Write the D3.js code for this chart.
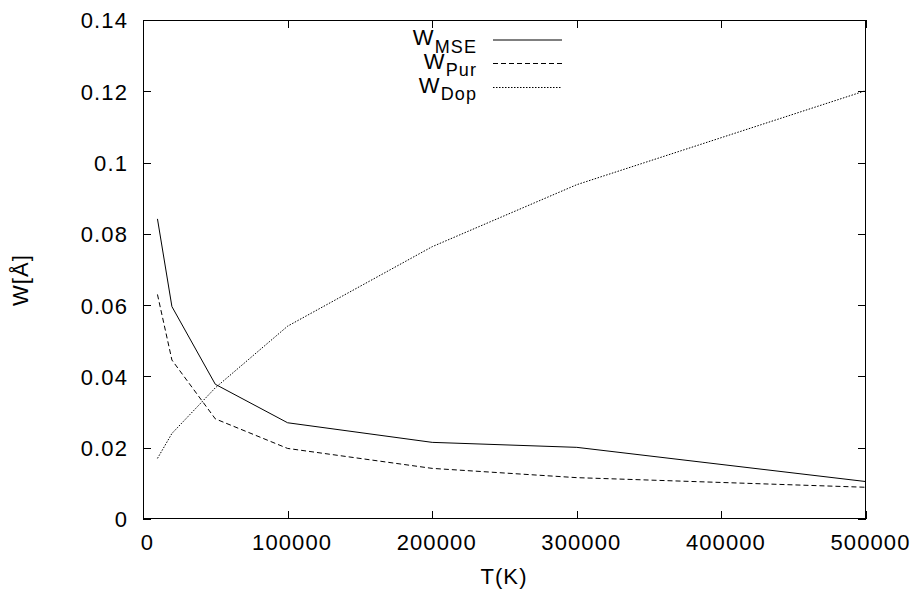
<!DOCTYPE html>
<html>
<head>
<meta charset="utf-8">
<script src="https://cdn.jsdelivr.net/npm/d3@7"></script>
<style>
  html, body { margin: 0; padding: 0; background: #fff; }
  svg { display: block; }
  text { font-family: "Liberation Sans", Arial, sans-serif; fill: #000; }
</style>
</head>
<body>
<svg id="chart" width="913" height="590"></svg>
<script>
// ---- data ----
const temps = [10000, 20000, 50000, 100000, 200000, 300000, 500000];
const wMSE = [0.0842, 0.0596, 0.0378, 0.0270, 0.0215, 0.0201, 0.0105];
const wPur = [0.0630, 0.0446, 0.0281, 0.0198, 0.0142, 0.0116, 0.0089];
const wDop = [0.0170, 0.0240, 0.0368, 0.0541, 0.0764, 0.0938, 0.1202];
const seriesNames = ["MSE", "Pur", "Dop"];
const xTicks = [0, 100000, 200000, 300000, 400000, 500000];
const yTicks = [0, 0.02, 0.04, 0.06, 0.08, 0.1, 0.12, 0.14];
const xTitle = "T(K)";
const yTitle = "W[Å]";

// ---- layout ----
const L = 143, R = 866, T = 20, B = 519;
const svg = d3.select("#chart");
const x = d3.scaleLinear().domain([0, 500000]).range([L, R]);
const y = d3.scaleLinear().domain([0, 0.14]).range([B, T]);

const fontSize = 22, ls = 1.1;
const fmtY = d => d === 0 ? "0" : String(+d.toFixed(2));

function styleAxis(g) {
  g.select(".domain").remove();
  g.selectAll(".tick line").attr("stroke", "#000").attr("stroke-width", 1)
    .attr("shape-rendering", "crispEdges");
  g.selectAll("text").attr("font-size", fontSize).attr("letter-spacing", ls)
    .attr("font-family", "Liberation Sans, Arial, sans-serif").attr("fill", "#000");
}

// bottom axis with labels
svg.append("g").attr("transform", `translate(0,${B})`)
  .call(d3.axisBottom(x).tickValues(xTicks).tickFormat(d3.format("d")).tickSize(-8).tickPadding(16))
  .call(styleAxis)
  .call(g => g.selectAll("text").attr("dx", 4).attr("dy", 0).attr("y", 31));
// top mirror ticks
svg.append("g").attr("transform", `translate(0,${T})`)
  .call(d3.axisTop(x).tickValues(xTicks).tickFormat("").tickSize(-8))
  .call(styleAxis);
// left axis with labels
svg.append("g").attr("transform", `translate(${L},0)`)
  .call(d3.axisLeft(y).tickValues(yTicks).tickFormat(fmtY).tickSize(-8).tickPadding(15))
  .call(styleAxis)
  .call(g => g.selectAll("text").attr("dy", "0.36em"));
// right mirror ticks
svg.append("g").attr("transform", `translate(${R},0)`)
  .call(d3.axisRight(y).tickValues(yTicks).tickFormat("").tickSize(-8))
  .call(styleAxis);

// frame
svg.append("rect").attr("x", L + 0.5).attr("y", T + 0.5)
  .attr("width", R - L - 1).attr("height", B - T - 1)
  .attr("fill", "none").attr("stroke", "#000").attr("stroke-width", 1.2)
  .attr("shape-rendering", "crispEdges");

// axis titles
svg.append("text").attr("x", 504).attr("y", 584).attr("text-anchor", "middle")
  .attr("font-size", fontSize).attr("letter-spacing", ls).text(xTitle);
svg.append("text").attr("transform", "translate(28,280) rotate(-90)")
  .attr("text-anchor", "middle").attr("font-size", fontSize).attr("letter-spacing", ls).text(yTitle);

// series
const dashes = [null, "5,3", "1.5,1.5"];
const values = [wMSE, wPur, wDop];
const line = d3.line().x(d => x(d[0])).y(d => y(d[1]));
values.forEach((vals, i) => {
  const pts = temps.map((t, j) => [t, vals[j]]);
  svg.append("path").datum(pts).attr("d", line)
    .attr("fill", "none").attr("stroke", "#000").attr("stroke-width", 1)
    .attr("stroke-dasharray", dashes[i]);
});

// legend
const legY = [40, 63.5, 87.5];
seriesNames.forEach((name, i) => {
  const t = svg.append("text").attr("x", 477).attr("y", legY[i] + 5)
    .attr("text-anchor", "end").attr("font-size", fontSize).attr("letter-spacing", ls);
  t.append("tspan").text("W");
  t.append("tspan").attr("font-size", 18).attr("dy", 7.5).text(name);
  svg.append("line").attr("x1", 493).attr("x2", 562)
    .attr("y1", legY[i]).attr("y2", legY[i])
    .attr("stroke", "#000").attr("stroke-width", 1)
    .attr("stroke-dasharray", dashes[i]);
});
</script>
</body>
</html>
